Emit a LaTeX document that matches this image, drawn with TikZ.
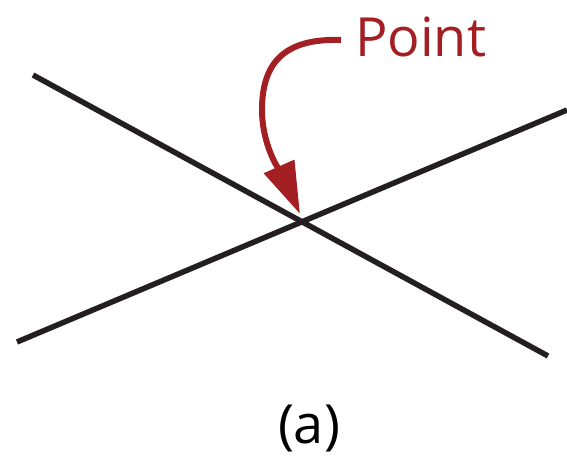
\documentclass[tikz,border=0pt]{standalone}
\usepackage{fontspec}
\setmainfont{Open Sans}
\usetikzlibrary{arrows.meta}
\definecolor{ptred}{RGB}{163,31,36}
\definecolor{ink}{RGB}{35,31,32}
\tikzset{
  blackline/.style={draw=ink, line width=5.5pt},
  redarrow/.style={draw=ptred, line width=6pt, -{Triangle[length=52pt,width=32pt]}},
  lbl/.style={inner sep=0pt, font=\fontsize{54}{60}\selectfont}
}
\begin{document}
\begin{tikzpicture}[x=1pt,y=-1pt]
\useasboundingbox (0,0) rectangle (567,457);
\coordinate (a1) at (33,75);
\coordinate (a2) at (548,356);
\coordinate (b1) at (17,342);
\coordinate (b2) at (567,110);
\draw[blackline] (a1) -- (a2);
\draw[blackline] (b1) -- (b2);
\node[lbl, text=ptred, anchor=base west] (pt) at (355,57) {Point};
\coordinate (s) at (341,40);
\coordinate (m) at (262,110);
\coordinate (tip) at (300,214);
\draw[redarrow] (s) .. controls (282,38) and (262,65) .. (m) .. controls (262,150) and (285,180) .. (tip);
\node[lbl, text=black, anchor=base] (cap) at (309,443) {(a)};
\end{tikzpicture}
\end{document}
